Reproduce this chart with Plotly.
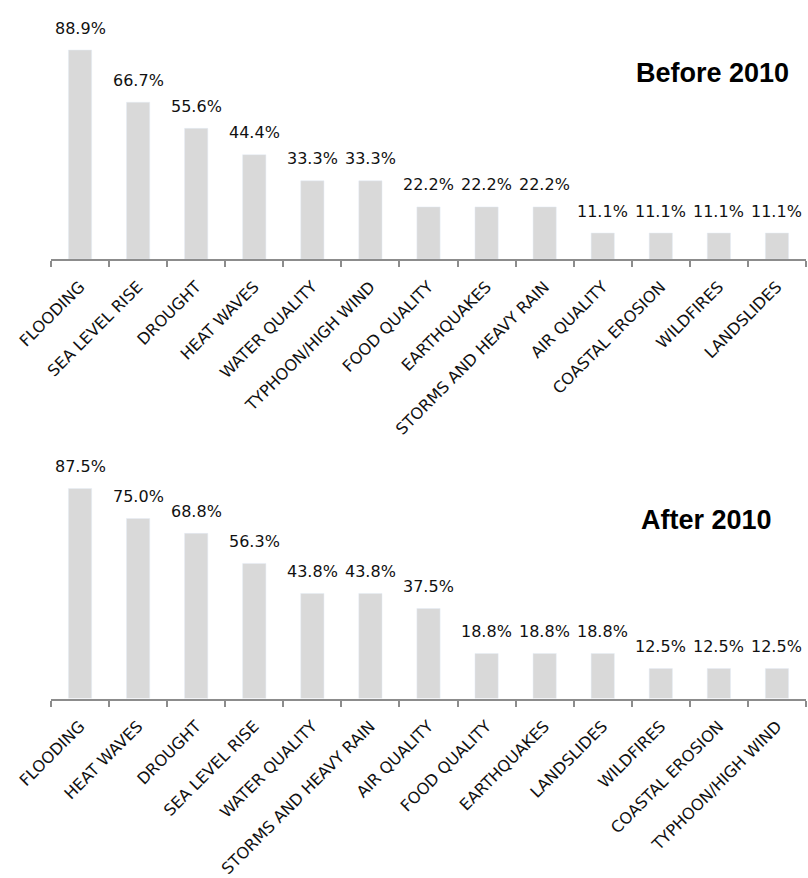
import plotly.graph_objects as go

# Share of responses per climate hazard, before and after 2010
before_categories = ["FLOODING", "SEA LEVEL RISE", "DROUGHT", "HEAT WAVES", "WATER QUALITY",
                     "TYPHOON/HIGH WIND", "FOOD QUALITY", "EARTHQUAKES", "STORMS AND HEAVY RAIN",
                     "AIR QUALITY", "COASTAL EROSION", "WILDFIRES", "LANDSLIDES"]
before_values = [88.9, 66.7, 55.6, 44.4, 33.3, 33.3, 22.2, 22.2, 22.2, 11.1, 11.1, 11.1, 11.1]

after_categories = ["FLOODING", "HEAT WAVES", "DROUGHT", "SEA LEVEL RISE", "WATER QUALITY",
                    "STORMS AND HEAVY RAIN", "AIR QUALITY", "FOOD QUALITY", "EARTHQUAKES",
                    "LANDSLIDES", "WILDFIRES", "COASTAL EROSION", "TYPHOON/HIGH WIND"]
after_values = [87.5, 75.0, 68.8, 56.3, 43.8, 43.8, 37.5, 18.8, 18.8, 18.8, 12.5, 12.5, 12.5]

panel_titles = ["Before 2010", "After 2010"]

W, H = 808, 878
BAR = "#d9d9d9"
AXIS = "#8c8c8c"
LABEL_FONT = dict(family="DejaVu Sans", size=16, color="#111111")

fig = go.Figure()

fig.add_trace(go.Bar(x=before_categories, y=before_values, marker_color=BAR,
                     xaxis="x", yaxis="y", showlegend=False, hoverinfo="x+y"))
fig.add_trace(go.Bar(x=after_categories, y=after_values, marker_color=BAR,
                     xaxis="x2", yaxis="y2", showlegend=False, hoverinfo="x+y"))

annotations = []
for cats, vals, xr, yr in [(before_categories, before_values, "x", "y"),
                           (after_categories, after_values, "x2", "y2")]:
    for c, v in zip(cats, vals):
        annotations.append(dict(x=c, y=v, xref=xr, yref=yr, text=f"{v:.1f}%",
                                showarrow=False, yanchor="middle", yshift=22,
                                font=LABEL_FONT))

title_font = dict(family="Liberation Sans, Arial", size=27, color="#000000", weight="bold")
annotations.append(dict(x=0.98, y=0.917, xref="paper", yref="paper", text=panel_titles[0],
                        showarrow=False, xanchor="right", yanchor="middle", font=title_font))
annotations.append(dict(x=0.957, y=0.4055, xref="paper", yref="paper", text=panel_titles[1],
                        showarrow=False, xanchor="right", yanchor="middle", font=title_font))

xaxis_style = dict(
    showline=True, linecolor=AXIS, linewidth=2,
    ticks="outside", tickson="boundaries", ticklen=6, tickwidth=2, tickcolor=AXIS,
    tickangle=-45, ticklabelstandoff=10,
    tickfont=dict(family="DejaVu Sans", size=16, color="#111111"),
    showgrid=False, zeroline=False, fixedrange=True,
)
yaxis_style = dict(visible=False, range=[0, 100], showgrid=False, zeroline=False, fixedrange=True)

fig.update_layout(
    width=W, height=H,
    margin=dict(l=51, r=2, t=0, b=0),
    paper_bgcolor="white", plot_bgcolor="white",
    bargap=0.6,
    xaxis=dict(domain=[0, 1], anchor="y", **xaxis_style),
    yaxis=dict(domain=[(H - 260) / H, (H - 24) / H], anchor="x", **yaxis_style),
    xaxis2=dict(domain=[0, 1], anchor="y2", **xaxis_style),
    yaxis2=dict(domain=[(H - 701) / H, (H - 460) / H], anchor="x2", **yaxis_style),
    annotations=annotations,
)

fig.write_html("out.html")
